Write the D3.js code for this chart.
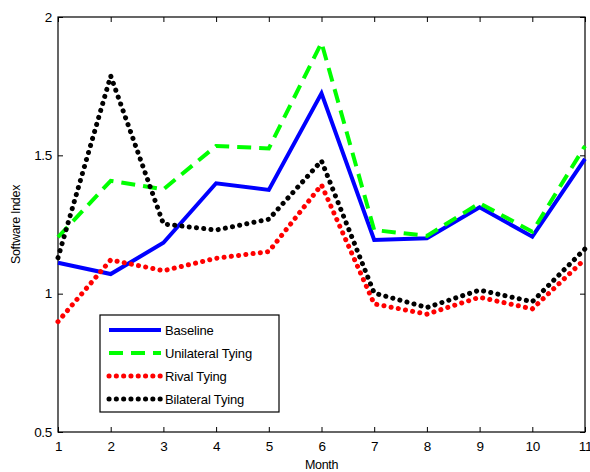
<!DOCTYPE html>
<html>
<head>
<meta charset="utf-8">
<script src="https://cdn.jsdelivr.net/npm/d3@7"></script>
<style>
  body { margin: 0; background: #fff; }
  svg { font-family: "Liberation Sans", Arial, sans-serif; }
</style>
</head>
<body>
<svg id="chart" width="590" height="472"></svg>
<script>
const months = [1, 2, 3, 4, 5, 6, 7, 8, 9, 10, 11]
const baseline = [1.112, 1.071, 1.184, 1.399, 1.375, 1.724, 1.194, 1.200, 1.312, 1.206, 1.487]
const unilateral = [1.204, 1.408, 1.377, 1.534, 1.525, 1.907, 1.230, 1.209, 1.327, 1.224, 1.534]
const rival = [0.899, 1.122, 1.083, 1.128, 1.152, 1.393, 0.963, 0.926, 0.987, 0.945, 1.125]
const bilateral = [1.130, 1.787, 1.252, 1.230, 1.269, 1.480, 1.002, 0.950, 1.013, 0.971, 1.162]
const yTicks = [0.5, 1, 1.5, 2]

const series = [
    { name: 'Baseline', values: baseline, color: '#0000ff', dash: null, cap: 'butt', width: 4 },
    { name: 'Unilateral Tying', values: unilateral, color: '#00ff00', dash: '14 8', cap: 'butt', width: 4 },
    { name: 'Rival Tying', values: rival, color: '#ff0000', dash: '0.1 7.2', cap: 'round', width: 5 },
    { name: 'Bilateral Tying', values: bilateral, color: '#000000', dash: '0.1 7.2', cap: 'round', width: 5 }
]

const MARGIN = { top: 17, right: 5, bottom: 40, left: 58 }
const width = 590, height = 472
const $svg = d3.select('#chart')

const x = d3.scaleLinear().domain([1, 11]).range([MARGIN.left, width - MARGIN.right])
const y = d3.scaleLinear().domain([0.5, 2]).range([height - MARGIN.bottom, MARGIN.top])

// frame
$svg.append('rect')
    .attr('x', x(1)).attr('y', y(2))
    .attr('width', x(11) - x(1)).attr('height', y(0.5) - y(2))
    .attr('fill', 'none').attr('stroke', '#000').attr('stroke-width', 1.2)

// axes, ticks inward
const xAxis = d3.axisBottom(x).tickValues(months).tickSize(-5).tickPadding(9).tickFormat(d3.format('d'))
const yAxis = d3.axisLeft(y).tickValues(yTicks).tickSize(-5).tickPadding(6).tickFormat(d => d)

$svg.append('g').attr('transform', `translate(0,${y(0.5)})`).call(xAxis)
$svg.append('g').attr('transform', `translate(${x(1)},0)`).call(yAxis)
$svg.append('g').attr('transform', `translate(0,${y(2)})`)
    .call(d3.axisTop(x).tickValues(months).tickSize(-5).tickFormat(''))
$svg.append('g').attr('transform', `translate(${x(11)},0)`)
    .call(d3.axisRight(y).tickValues(yTicks).tickSize(-5).tickFormat(''))

$svg.selectAll('.domain').remove()
$svg.selectAll('.tick line').attr('stroke', '#000')
$svg.selectAll('.tick text').attr('font-size', 13.5).attr('fill', '#000')
    .attr('font-family', '"Liberation Sans", Arial, sans-serif').style('letter-spacing', '-0.3px')

// lines
const line = d3.line().x((d, i) => x(months[i])).y(d => y(d))
series.forEach(s => {
    $svg.append('path')
        .datum(s.values)
        .attr('d', line)
        .attr('fill', 'none')
        .attr('stroke', s.color)
        .attr('stroke-width', s.width)
        .attr('stroke-dasharray', s.dash)
        .attr('stroke-linecap', s.cap)
        .attr('stroke-linejoin', 'miter')
})

// axis labels
$svg.append('text')
    .attr('x', (x(1) + x(11)) / 2).attr('y', 469)
    .attr('text-anchor', 'middle').attr('font-size', 12.5)
    .style('letter-spacing', '-0.3px')
    .text('Month')
$svg.append('text')
    .attr('transform', `translate(20,${(y(0.5) + y(2)) / 2}) rotate(-90)`)
    .attr('text-anchor', 'middle').attr('font-size', 12.5)
    .style('letter-spacing', '-0.3px')
    .text('Software Index')

// legend
const $legend = $svg.append('g').attr('transform', 'translate(100,315)')
$legend.append('rect')
    .attr('width', 179).attr('height', 97)
    .attr('fill', '#fff').attr('stroke', '#000').attr('stroke-width', 1.2)
series.forEach((s, i) => {
    const ly = 15 + i * 23
    $legend.append('line')
        .attr('x1', 9).attr('x2', 61).attr('y1', ly).attr('y2', ly)
        .attr('stroke', s.color).attr('stroke-width', s.width)
        .attr('stroke-dasharray', s.dash).attr('stroke-linecap', s.cap)
    $legend.append('text')
        .attr('x', 65).attr('y', ly).attr('dy', '0.35em')
        .attr('font-size', 13).style('letter-spacing', '-0.15px')
        .text(s.name)
})
</script>
</body>
</html>
